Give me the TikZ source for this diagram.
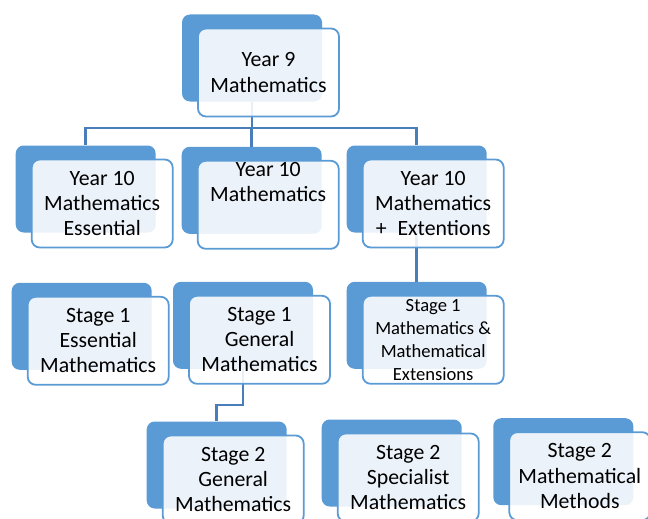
\documentclass[tikz,border=0pt]{standalone}
\usepackage{fontspec}
\setmainfont{Carlito}
\definecolor{cardblue}{HTML}{5B9BD5}
\definecolor{linkblue}{HTML}{4A7EBB}
\tikzset{
	cardback/.style={fill=cardblue, rounded corners=8pt, minimum width=140pt, minimum height=87pt, inner sep=0pt},
	cardfront/.style={draw=cardblue, line width=1.8pt, fill=white, fill opacity=0.88, text opacity=1, rounded corners=8pt, minimum width=141pt, minimum height=88pt, inner sep=2pt, align=center, font=\fontsize{21.8}{25.2}\selectfont},
	cardtext/.style={inner sep=2pt, align=center, font=\fontsize{21.8}{25.2}\selectfont},
	link/.style={draw=linkblue, line width=2.5pt},
}
\begin{document}
\begin{tikzpicture}[x=1pt, y=-1pt]
	\useasboundingbox (0,0) rectangle (648,519);
	\clip (0,0) rectangle (648,519);
	\node[cardback] (y9) at (252,58) {};
	\node[cardback] (e10) at (85.7,189) {};
	\node[cardback] (m10) at (251.7,190.3) {};
	\node[cardback] (x10) at (416.7,189) {};
	\node[cardback] (s1e) at (81.7,326.3) {};
	\node[cardback] (s1g) at (243,325.3) {};
	\node[cardback] (s1x) at (416.7,325.3) {};
	\node[cardback] (s2g) at (216.7,465) {};
	\node[cardback] (s2s) at (391.7,463) {};
	\node[cardback] (s2m) at (563.3,461.7) {};
	\draw[link] (y9.south) -- ++(0,26.5) -| (e10.north);
	\draw[link] (y9.south) -- ++(0,26.5) -| (m10.north);
	\draw[link] (y9.south) -- ++(0,26.5) -| (x10.north);
	\draw[link] (x10.south) -- (s1x.north);
	\draw[link] (s1g.south) -- ++(0,36) -| (s2g.north);
	\node[cardfront] (y9f) at ([shift={(16.5,14.5)}]y9.center) {Year 9\\Mathematics};
	\node[cardfront] (e10f) at ([shift={(16.5,14.5)}]e10.center) {Year 10\\Mathematics\\Essential};
	\node[cardfront] (m10f) at ([shift={(16.5,14.5)}]m10.center) {};
	\node[cardtext, anchor=north] (m10t) at (m10f.north) {Year 10\\Mathematics};
	\node[cardfront] (x10f) at ([shift={(16.5,14.5)}]x10.center) {Year 10\\Mathematics\\+\enspace Extentions};
	\node[cardfront] (s1ef) at ([shift={(16.5,14.5)}]s1e.center) {Stage 1\\Essential\\Mathematics};
	\node[cardfront] (s1gf) at ([shift={(16.5,14.5)}]s1g.center) {Stage 1\\General\\Mathematics};
	\node[cardfront, font=\fontsize{18.6}{23}\selectfont] (s1xf) at ([shift={(16.5,14.5)}]s1x.center) {Stage 1\\Mathematics \&\\Mathematical\\Extensions};
	\node[cardfront] (s2gf) at ([shift={(16.5,14.5)}]s2g.center) {Stage 2\\General\\Mathematics};
	\node[cardfront] (s2sf) at ([shift={(16.5,14.5)}]s2s.center) {Stage 2\\Specialist\\Mathematics};
	\node[cardfront] (s2mf) at ([shift={(16.5,14.5)}]s2m.center) {Stage 2\\Mathematical\\Methods};
\end{tikzpicture}
\end{document}
